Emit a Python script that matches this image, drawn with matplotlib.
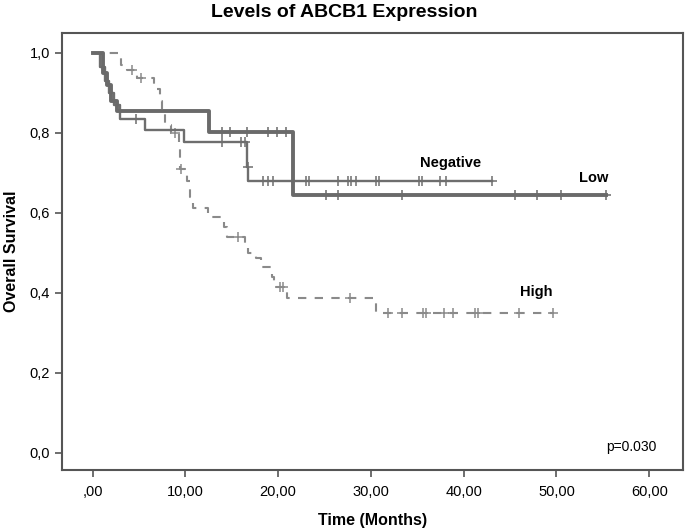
import numpy as np
import matplotlib
matplotlib.use("Agg")
import matplotlib.pyplot as plt

plt.rcParams['font.family'] = ['Liberation Sans', 'DejaVu Sans']

# Kaplan-Meier step data (time in months, survival)
low_t = [0, 1.1, 1.5, 2.0, 2.6, 12.6, 21.6]
low_s = [1.0, 0.95, 0.92, 0.88, 0.854, 0.803, 0.645]
low_end = 55.3
low_cens = [14.0, 14.8, 16.6, 18.9, 19.9, 20.9, 25.2, 26.4, 33.4, 45.5, 47.9, 50.5, 55.3]

neg_t = [0, 0.8, 1.3, 1.8, 2.3, 2.9, 5.7, 9.9, 16.6, 16.8]
neg_s = [1.0, 0.965, 0.93, 0.90, 0.87, 0.835, 0.808, 0.777, 0.716, 0.68]
neg_end = 43.1
neg_cens = [4.7, 13.9, 16.0, 16.4, 16.7, 18.4, 18.9, 19.4, 23.0, 23.3, 26.4, 27.5,
            27.9, 28.4, 30.6, 30.9, 35.2, 35.5, 37.4, 38.1, 43.1]

high_t = [0, 3.1, 3.7, 4.8, 6.6, 7.3, 7.5, 7.8, 8.5, 9.3, 9.4, 10.2, 10.5, 10.8,
          12.4, 14.2, 14.5, 16.4, 16.8, 17.6, 18.2, 19.3, 19.6, 21.0, 30.5]
high_s = [1.0, 0.97, 0.957, 0.937, 0.91, 0.88, 0.85, 0.82, 0.80, 0.76, 0.71, 0.68,
          0.64, 0.612, 0.59, 0.565, 0.54, 0.52, 0.50, 0.487, 0.464, 0.44, 0.416,
          0.387, 0.35]
high_end = 49.6
high_cens = [4.2, 5.2, 8.9, 9.55, 15.7, 20.2, 20.5, 27.8, 31.8, 33.4, 35.6, 35.9,
             37.9, 38.8, 41.2, 41.5, 46.0, 49.6]

x_ticks = [0, 10, 20, 30, 40, 50, 60]
x_labels = [',00', '10,00', '20,00', '30,00', '40,00', '50,00', '60,00']
y_ticks = [0, 0.2, 0.4, 0.6, 0.8, 1.0]
y_labels = ['0,0', '0,2', '0,4', '0,6', '0,8', '1,0']


def km_curve(ax, t, s, end, cens, color, lw, ls):
    tt = list(t) + [end]
    ss = list(s) + [s[-1]]
    ax.step(tt, ss, where='post', color=color, lw=lw, linestyle=ls)
    idx = np.searchsorted(t, cens, side='right') - 1
    cy = np.array(s)[idx]
    ax.plot(cens, cy, linestyle='none', marker='+', markersize=7,
            markeredgewidth=1.1, color=color)


fig = plt.figure(figsize=(6.85, 5.28), dpi=100)
ax = fig.add_axes([0.0905, 0.11, 0.906, 0.8275])

km_curve(ax, high_t, high_s, high_end, high_cens, '#8a8a8a', 1.5, (0, (4, 4)))
km_curve(ax, neg_t, neg_s, neg_end, neg_cens, '#6e6e6e', 1.7, '-')
km_curve(ax, low_t, low_s, low_end, low_cens, '#6a6a6a', 2.8, '-')

ax.text(38.6, 0.725, 'Negative', fontsize=10.5, fontweight='bold', ha='center', va='center')
ax.text(54.0, 0.6875, 'Low', fontsize=10.5, fontweight='bold', ha='center', va='center')
ax.text(47.8, 0.4025, 'High', fontsize=10.5, fontweight='bold', ha='center', va='center')
ax.text(60.8, 0.015, 'p=0.030', fontsize=10, ha='right', va='center')

ax.set_xlim(-3.3, 63.6)
ax.set_ylim(-0.0425, 1.05)
ax.set_xticks(x_ticks)
ax.set_xticklabels(x_labels)
ax.set_yticks(y_ticks)
ax.set_yticklabels(y_labels)
ax.tick_params(axis='both', labelsize=10.5, length=5, width=1.2, color='#555555')
ax.tick_params(axis='x', pad=6)

for sp in ax.spines.values():
    sp.set_color('#555555')
    sp.set_linewidth(1.5)

ax.set_xlabel('Time (Months)', fontsize=11.5, fontweight='bold', labelpad=10)
ax.set_ylabel('Overall Survival', fontsize=11.5, fontweight='bold', labelpad=8)
fig.text(0.502, 0.977, 'Levels of ABCB1 Expression', fontsize=14, fontweight='bold',
         ha='center', va='center')

fig.savefig('out.png', dpi=100)
